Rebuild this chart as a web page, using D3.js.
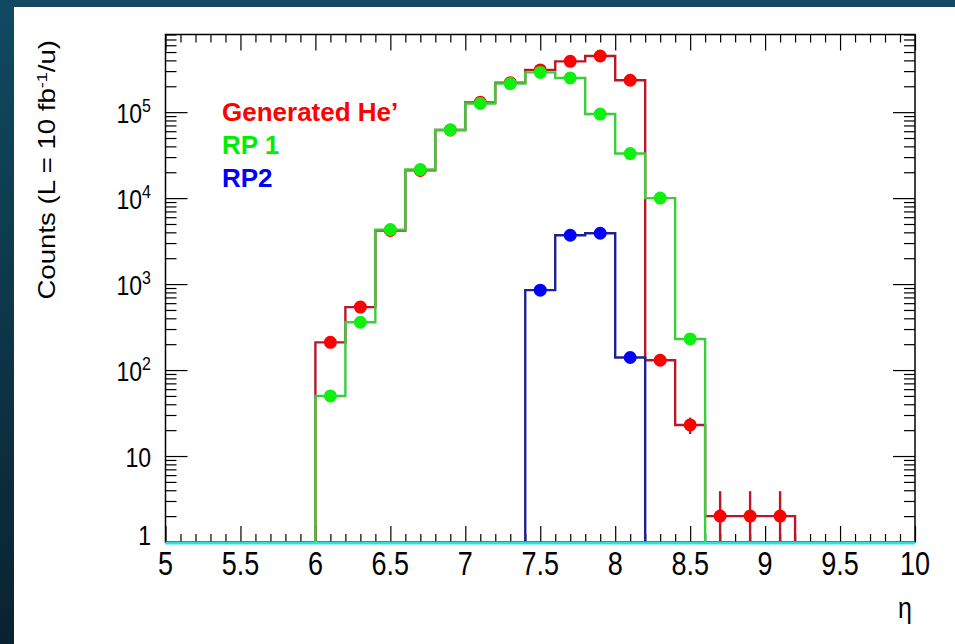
<!DOCTYPE html>
<html>
<head>
<meta charset="utf-8">
<script src="https://cdn.jsdelivr.net/npm/d3@7"></script>
<style>
  body { margin: 0; background: #ffffff; }
  text { font-family: "Liberation Sans", Arial, Helvetica, sans-serif; }
</style>
</head>
<body>
<div id="chart"></div>
<script>
// histogram data, bin low edges (bin width 0.2)
var etaBins = [6.0, 6.2, 6.4, 6.6, 6.8, 7.0, 7.2, 7.4, 7.6, 7.8, 8.0, 8.2, 8.4, 8.6, 8.8, 9.0];
var binWidth = 0.2;
var generated = [210, 540, 4200, 21000, 62000, 130000, 220000, 310000, 390000, 450000, 235000, 130, 23, 2, 2, 2];
var generatedErr = [0, 0, 0, 0, 0, 0, 0, 0, 0, 0, 0, 0, 5, 1.9, 1.9, 1.9];
var rp1 = [50, 360, 4300, 21500, 62000, 126000, 215000, 290000, 250000, 95000, 33000, 10000, 230, 0, 0, 0];
var rp2 = [0, 0, 0, 0, 0, 0, 0, 850, 3700, 3900, 140, 0, 0, 0, 0, 0];

var xTicks = [5, 5.5, 6, 6.5, 7, 7.5, 8, 8.5, 9, 9.5, 10];
var yTicks = [1, 10, 100, 1000, 10000, 100000];
var legendLabels = ["Generated He\u2019", "RP 1", "RP2"];

var svgWidth = 955;
var svgHeight = 644;
var stretch = 1.2; // plot text in the picture is a bit taller than wide

var $svg = d3.select("#chart")
  .append("svg")
  .attr("width", svgWidth)
  .attr("height", svgHeight);

// slide background strips
var defs = $svg.append("defs");
var grad = defs.append("linearGradient")
  .attr("id", "bg")
  .attr("x1", 0).attr("y1", 0).attr("x2", 0).attr("y2", 1);
grad.append("stop").attr("offset", "0%").attr("stop-color", "#104a62");
grad.append("stop").attr("offset", "100%").attr("stop-color", "#0a2230");

$svg.append("rect").attr("width", svgWidth).attr("height", svgHeight).attr("fill", "url(#bg)");
$svg.append("rect").attr("x", 14).attr("y", 7)
  .attr("width", svgWidth - 14).attr("height", svgHeight - 7)
  .attr("fill", "#ffffff");

// scales
var x = d3.scaleLinear().domain([5, 10]).range([165.5, 915]);
var y = d3.scaleLog().domain([1, 8e5]).range([542, 34.5]);

var plotTop = y.range()[1], plotBottom = y.range()[0];
var plotLeft = x.range()[0], plotRight = x.range()[1];

// minor tick positions
var xMinor = d3.range(5, 10.001, 0.1).filter(function(v) {
  return Math.abs(v * 2 - Math.round(v * 2)) > 1e-6;
});
var yMinor = [];
yTicks.forEach(function(d) {
  for (var k = 2; k <= 9; k++) {
    if (d * k <= 8e5) yMinor.push(d * k);
  }
});

function tickAxis(axisFn, scale, values, size, pos) {
  var g = $svg.append("g")
    .attr("transform", pos)
    .call(axisFn(scale).tickValues(values).tickSize(size).tickFormat(""));
  g.select(".domain").remove();
  g.selectAll("line").attr("stroke", "#000").attr("stroke-width", 1.2);
  return g;
}

// ticks on all four sides, pointing inward
tickAxis(d3.axisBottom, x, xTicks, -16, "translate(0," + plotBottom + ")");
tickAxis(d3.axisBottom, x, xMinor, -8, "translate(0," + plotBottom + ")");
tickAxis(d3.axisTop, x, xTicks, -16, "translate(0," + plotTop + ")");
tickAxis(d3.axisTop, x, xMinor, -8, "translate(0," + plotTop + ")");
tickAxis(d3.axisLeft, y, yTicks, -22, "translate(" + plotLeft + ",0)");
tickAxis(d3.axisLeft, y, yMinor, -11, "translate(" + plotLeft + ",0)");
tickAxis(d3.axisRight, y, yTicks, -22, "translate(" + plotRight + ",0)");
tickAxis(d3.axisRight, y, yMinor, -11, "translate(" + plotRight + ",0)");

// frame
$svg.append("rect")
  .attr("x", plotLeft).attr("y", plotTop)
  .attr("width", plotRight - plotLeft).attr("height", plotBottom - plotTop)
  .attr("fill", "none").attr("stroke", "#000").attr("stroke-width", 1.5);

// x tick labels
$svg.append("g").selectAll("text")
  .data(xTicks)
  .enter()
  .append("text")
  .attr("transform", d => `translate(${x(d)}, ${plotBottom + 33}) scale(1, ${stretch})`)
  .attr("text-anchor", "middle")
  .attr("font-size", "27px")
  .attr("fill", "#000")
  .text(d => d);

// y tick labels
var yLab = $svg.append("g").selectAll("text")
  .data(yTicks)
  .enter()
  .append("text")
  .attr("transform", d => `translate(151, ${y(d) + (d === 1 ? 3 : 11)}) scale(1, ${stretch})`)
  .attr("text-anchor", "end")
  .attr("font-size", "23px")
  .attr("fill", "#000");
yLab.each(function(d) {
  var t = d3.select(this);
  var p = Math.round(Math.log10(d));
  if (p <= 1) {
    t.text(d);
  } else {
    t.append("tspan").text("10");
    t.append("tspan").attr("dy", -9).attr("font-size", "16px").text(p);
  }
});

// axis titles
var yTitle = $svg.append("text")
  .attr("transform", `translate(55, 40) rotate(-90) scale(${stretch}, 1)`)
  .attr("text-anchor", "end")
  .attr("font-size", "23px")
  .attr("fill", "#000");
yTitle.append("tspan").text("Counts (L = 10 fb");
yTitle.append("tspan").attr("dy", -8).attr("font-size", "15px").text("-1");
yTitle.append("tspan").attr("dy", 8).text("/u)");

$svg.append("text")
  .attr("transform", `translate(905, 618) scale(1, ${stretch})`)
  .attr("text-anchor", "middle")
  .attr("font-size", "25px")
  .attr("fill", "#000")
  .text("\u03b7");

var series = [
  { name: legendLabels[0], values: generated, err: generatedErr, line: "#b8182a", marker: "#ff0000", text: "#ff0000" },
  { name: legendLabels[1], values: rp1, err: null, line: "#3ccc3c", marker: "#10f010", text: "#00ee00" },
  { name: legendLabels[2], values: rp2, err: null, line: "#20208f", marker: "#0000ff", text: "#0000ff" }
];

series.forEach(function(s) {
  // trim empty bins so the outline starts at the first filled bin
  var first = s.values.findIndex(v => v > 0);
  var last = s.values.length - 1 - s.values.slice().reverse().findIndex(v => v > 0);
  var vals = s.values.slice(first, last + 1);
  var bins = etaBins.slice(first, last + 1);
  var pts = [[bins[0], 1]];
  vals.forEach(function(v, i) {
    var c = v > 0 ? v : 1;
    pts.push([bins[i], c]);
    pts.push([bins[i] + binWidth, c]);
  });
  pts.push([bins[bins.length - 1] + binWidth, 1]);

  $svg.append("path")
    .attr("d", d3.line().x(d => x(d[0])).y(d => y(d[1]))(pts))
    .attr("fill", "none")
    .attr("stroke", s.line)
    .attr("stroke-width", 2.4);

  var pts2 = vals.map(function(v, i) {
    return { x: bins[i] + binWidth / 2, v: v, e: s.err ? s.err[first + i] : 0 };
  }).filter(d => d.v > 0);

  $svg.append("g").selectAll("line")
    .data(pts2.filter(d => d.e > 0))
    .enter()
    .append("line")
    .attr("x1", d => x(d.x)).attr("x2", d => x(d.x))
    .attr("y1", d => y(d.v + d.e))
    .attr("y2", d => Math.min(plotBottom, y(Math.max(d.v - d.e, 1))))
    .attr("stroke", s.line)
    .attr("stroke-width", 2.4);

  $svg.append("g").selectAll("circle")
    .data(pts2)
    .enter()
    .append("circle")
    .attr("cx", d => x(d.x))
    .attr("cy", d => y(d.v))
    .attr("r", 6.5)
    .attr("fill", s.marker);
});

// empty histogram along the bottom
$svg.append("line")
  .attr("x1", plotLeft).attr("x2", plotRight)
  .attr("y1", plotBottom + 1).attr("y2", plotBottom + 1)
  .attr("stroke", "#30dede")
  .attr("stroke-width", 3);

// legend text
$svg.append("g").selectAll("text")
  .data(series)
  .enter()
  .append("text")
  .attr("x", 222)
  .attr("y", (d, i) => 121 + i * 33)
  .attr("font-size", "26px")
  .attr("font-weight", "bold")
  .attr("fill", d => d.text)
  .text(d => d.name);
</script>
</body>
</html>
